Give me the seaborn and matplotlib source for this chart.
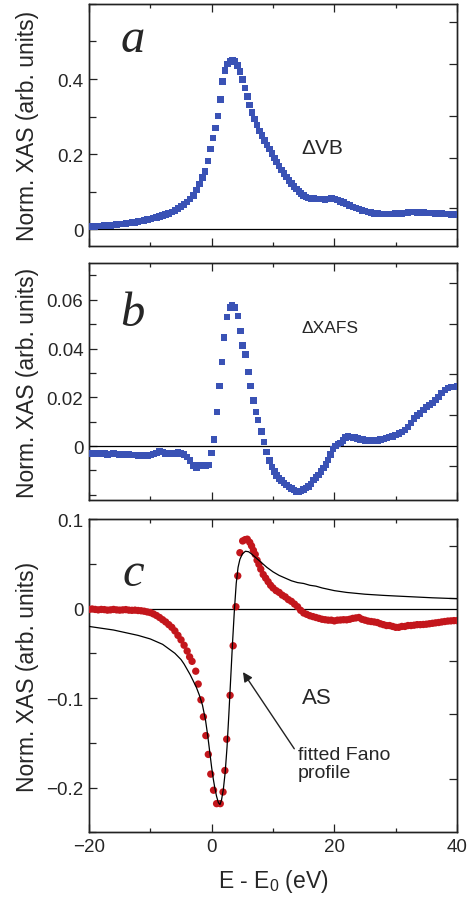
import numpy as np
import pandas as pd
import matplotlib
matplotlib.use("Agg")
import matplotlib.pyplot as plt
from matplotlib.ticker import MultipleLocator
import seaborn as sns

# ---------------- data ----------------
# panel a : Delta VB
a_x = [-20, -19.5, -19, -18.5, -18, -17.5, -17, -16.5, -16, -15.5, -15, -14.5, -14, -13.5, -13,
       -12.5, -12, -11.5, -11, -10.5, -10, -9.5, -9, -8.5, -8, -7.5, -7, -6.5, -6, -5.5, -5,
       -4.5, -4, -3.5, -3, -2.5, -2, -1.5, -1.1, -0.6, -0.2, 0.2, 0.6, 1.0, 1.4, 1.8, 2.2, 2.6,
       3.0, 3.4, 3.8, 4.2, 4.6, 5.0, 5.4, 5.8, 6.2, 6.6, 7.0, 7.4, 7.8, 8.2, 8.6, 9.0, 9.4, 9.8,
       10.2, 10.6, 11.0, 11.4, 11.8, 12.2, 12.6, 13.0, 13.4, 13.8, 14.2, 14.6, 15.0, 15.4, 15.8,
       16.2, 16.6, 17.0, 17.5, 18.0, 18.5, 19.0, 19.5, 20.0, 20.5, 21.0, 21.5, 22.0, 22.5, 23.0,
       23.5, 24.0, 24.5, 25.0, 25.5, 26.0, 26.5, 27.0, 27.5, 28.0, 28.5, 29.0, 29.5, 30.0, 30.5,
       31.0, 31.5, 32.0, 32.5, 33.0, 33.5, 34.0, 34.5, 35.0, 35.5, 36.0, 36.5, 37.0, 37.5, 38.0,
       38.5, 39.0, 39.5, 40.0]
a_y = [0.006, 0.007, 0.007, 0.008, 0.008, 0.009, 0.010, 0.010, 0.011, 0.012, 0.013, 0.014, 0.015,
       0.016, 0.017, 0.018, 0.020, 0.021, 0.023, 0.025, 0.027, 0.029, 0.031, 0.033, 0.036, 0.039,
       0.042, 0.046, 0.050, 0.055, 0.060, 0.066, 0.072, 0.080, 0.090, 0.104, 0.120, 0.138, 0.153,
       0.181, 0.214, 0.243, 0.270, 0.302, 0.345, 0.393, 0.422, 0.440, 0.447, 0.449, 0.446, 0.436,
       0.420, 0.398, 0.376, 0.354, 0.331, 0.311, 0.294, 0.278, 0.262, 0.249, 0.236, 0.224, 0.213,
       0.201, 0.190, 0.179, 0.168, 0.158, 0.148, 0.139, 0.130, 0.122, 0.114, 0.107, 0.100, 0.095,
       0.090, 0.086, 0.083, 0.082, 0.081, 0.080, 0.080, 0.080, 0.079, 0.080, 0.081, 0.080, 0.077,
       0.074, 0.071, 0.067, 0.063, 0.059, 0.056, 0.053, 0.050, 0.048, 0.046, 0.044, 0.042, 0.041,
       0.040, 0.040, 0.040, 0.040, 0.040, 0.041, 0.042, 0.042, 0.043, 0.044, 0.045, 0.045, 0.044,
       0.044, 0.044, 0.043, 0.043, 0.043, 0.042, 0.041, 0.041, 0.040, 0.040, 0.039, 0.039, 0.038]

# panel b : Delta XAFS
b_x = [-20, -19.5, -19, -18.5, -18, -17.5, -17, -16.5, -16, -15.5, -15, -14.5, -14, -13.5, -13,
       -12.5, -12, -11.5, -11, -10.5, -10, -9.5, -9, -8.5, -8, -7.5, -7, -6.5, -6, -5.5, -5,
       -4.5, -4, -3.5, -3, -2.5, -2, -1.5, -1.0, -0.4, 0.0, 0.4, 0.85, 1.3, 1.65, 2.0, 2.5, 2.95,
       3.35, 3.8, 4.3, 4.7, 5.05, 5.55, 6.0, 6.35, 6.8, 7.2, 7.55, 8.1, 8.5, 8.95, 9.4, 9.8, 10.2,
       10.6, 11.0, 11.4, 11.8, 12.2, 12.6, 13.0, 13.4, 13.8, 14.2, 14.6, 15.0, 15.4, 15.8, 16.2,
       16.6, 17.0, 17.4, 17.8, 18.2, 18.6, 19.0, 19.4, 19.8, 20.2, 20.6, 21.0, 21.4, 21.8, 22.2,
       22.6, 23.0, 23.4, 23.8, 24.2, 24.6, 25.0, 25.5, 26.0, 26.5, 27.0, 27.5, 28.0, 28.5, 29.0,
       29.5, 30.0, 30.5, 31.0, 31.5, 32.0, 32.5, 33.0, 33.5, 34.0, 34.5, 35.0, 35.5, 36.0, 36.5,
       37.0, 37.5, 38.0, 38.5, 39.0, 39.5, 40.0]
b_y = [-0.0030, -0.0032, -0.0030, -0.0033, -0.0031, -0.0030, -0.0034, -0.0032, -0.0030, -0.0033,
       -0.0035, -0.0034, -0.0036, -0.0035, -0.0037, -0.0036, -0.0038, -0.0037, -0.0039, -0.0038,
       -0.0036, -0.0032, -0.0028, -0.0022, -0.0025, -0.0030, -0.0033, -0.0028, -0.0030, -0.0027,
       -0.0030, -0.0034, -0.0045, -0.0060, -0.0080, -0.0087, -0.0080, -0.0078, -0.0080, -0.0077,
       -0.0028, 0.0027, 0.0140, 0.0246, 0.0346, 0.0445, 0.0529, 0.0569, 0.0576, 0.0569, 0.0534,
       0.0473, 0.0412, 0.0376, 0.0305, 0.0246, 0.0188, 0.0140, 0.0108, 0.0060, 0.0016, -0.0025,
       -0.0060, -0.0085, -0.0105, -0.0120, -0.0132, -0.0142, -0.0151, -0.0160, -0.0167, -0.0174,
       -0.0180, -0.0186, -0.0189, -0.0185, -0.0178, -0.0171, -0.0165, -0.0155, -0.0140, -0.0128,
       -0.0118, -0.0105, -0.0090, -0.0075, -0.0057, -0.0035, -0.0012, 0.0000, 0.0008, 0.0012,
       0.0022, 0.0035, 0.0040, 0.0038, 0.0033, 0.0038, 0.0032, 0.0025, 0.0028, 0.0022, 0.0020,
       0.0022, 0.0025, 0.0024, 0.0027, 0.0030, 0.0033, 0.0037, 0.0040, 0.0046, 0.0052, 0.0058,
       0.0066, 0.0078, 0.0095, 0.0113, 0.0125, 0.0133, 0.0148, 0.0160, 0.0168, 0.0177, 0.0190,
       0.0202, 0.0218, 0.0230, 0.0238, 0.0243, 0.0242, 0.0246]

# panel c : AS (measured)
c_x = [-20, -19.5, -19, -18.5, -18, -17.5, -17, -16.5, -16, -15.5, -15, -14.5, -14, -13.5, -13,
       -12.5, -12, -11.5, -11, -10.5, -10, -9.5, -9, -8.5, -8, -7.5, -7, -6.5, -6, -5.5, -5,
       -4.5, -4.0, -3.6, -3.2, -2.6, -2.2, -1.75, -1.35, -0.95, -0.55, -0.15, 0.3, 0.8, 1.4, 1.85,
       2.15, 2.45, 3.0, 3.5, 3.95, 4.25, 4.6, 5.05, 5.45, 5.8, 6.2, 6.5, 6.8, 7.1, 7.4, 7.7, 8.0,
       8.4, 8.8, 9.2, 9.6, 10.0, 10.5, 11.0, 11.5, 12.0, 12.5, 13.0, 13.5, 14.0, 14.5, 15.0, 15.5,
       16.0, 16.5, 17.0, 17.5, 18.0, 18.5, 19.0, 19.5, 20.0, 20.5, 21.0, 21.5, 22.0, 22.5, 23.0,
       23.5, 24.0, 24.5, 25.0, 25.5, 26.0, 26.5, 27.0, 27.5, 28.0, 28.5, 29.0, 29.5, 30.0, 30.5,
       31.0, 31.5, 32.0, 32.5, 33.0, 33.5, 34.0, 34.5, 35.0, 35.5, 36.0, 36.5, 37.0, 37.5, 38.0,
       38.5, 39.0, 39.5, 40.0]
c_y = [-0.0010, -0.0005, -0.0010, -0.0015, -0.0010, -0.0012, -0.0018, -0.0015, -0.0010, -0.0015,
       -0.0018, -0.0015, -0.0012, -0.0018, -0.0020, -0.0018, -0.0022, -0.0025, -0.0030, -0.0038,
       -0.0045, -0.0060, -0.0078, -0.0100, -0.0125, -0.0150, -0.0180, -0.0210, -0.0250, -0.0300,
       -0.0350, -0.0410, -0.0475, -0.0540, -0.0590, -0.0700, -0.0844, -0.1020, -0.1210, -0.1420,
       -0.1630, -0.1850, -0.2030, -0.2180, -0.2180, -0.2050, -0.1810, -0.1460, -0.0970, -0.0416,
       0.0020, 0.0365, 0.0624, 0.0755, 0.0770, 0.0775, 0.0740, 0.0700, 0.0650, 0.0605, 0.0540,
       0.0494, 0.0440, 0.0380, 0.0340, 0.0300, 0.0260, 0.0230, 0.0200, 0.0180, 0.0150, 0.0130,
       0.0100, 0.0080, 0.0050, 0.0020, -0.0020, -0.0050, -0.0065, -0.0080, -0.0090, -0.0100,
       -0.0110, -0.0120, -0.0125, -0.0130, -0.0130, -0.0138, -0.0130, -0.0128, -0.0125, -0.0126,
       -0.0120, -0.0110, -0.0105, -0.0100, -0.0120, -0.0130, -0.0140, -0.0145, -0.0150, -0.0156,
       -0.0170, -0.0180, -0.0190, -0.0190, -0.0200, -0.0210, -0.0210, -0.0200, -0.0200, -0.0190,
       -0.0190, -0.0186, -0.0180, -0.0180, -0.0178, -0.0175, -0.0170, -0.0165, -0.0160, -0.0156,
       -0.0150, -0.0145, -0.0140, -0.0138, -0.0135, -0.0135]

# panel c : fitted Fano profile
fano_x = [-20, -18, -16, -14, -12, -10, -9, -8, -7, -6, -5, -4.5, -4, -3.5, -3, -2.5, -2, -1.5,
          -1.0, -0.75, -0.5, -0.25, 0.0, 0.25, 0.5, 0.8, 1.1, 1.35, 1.6, 1.9, 2.2, 2.5, 2.8, 3.1,
          3.4, 3.7, 4.0, 4.3, 4.6, 5.0, 5.5, 6.0, 6.5, 7.0, 8.0, 9.0, 10, 11, 12, 13, 14, 15, 16,
          17, 18, 20, 22, 25, 28, 30, 33, 36, 40]
fano_y = [-0.020, -0.022, -0.024, -0.027, -0.030, -0.034, -0.037, -0.040, -0.045, -0.050, -0.057,
          -0.062, -0.068, -0.074, -0.081, -0.088, -0.097, -0.108, -0.125, -0.137, -0.150, -0.164,
          -0.178, -0.190, -0.200, -0.210, -0.217, -0.219, -0.214, -0.202, -0.183, -0.155, -0.118,
          -0.078, -0.038, -0.002, 0.028, 0.046, 0.055, 0.061, 0.064, 0.0635, 0.061, 0.058, 0.052,
          0.046, 0.041, 0.037, 0.034, 0.031, 0.029, 0.028, 0.026, 0.025, 0.023, 0.020, 0.018,
          0.016, 0.0147, 0.014, 0.013, 0.012, 0.011]

x_ticks = [-20, 0, 20, 40]
panel_letters = ["a", "b", "c"]
series_labels = ["ΔVB", "ΔXAFS", "AS"]
fano_label = "fitted Fano\nprofile"
ylabel = "Norm. XAS (arb. units)"
xlabel = "E - E$_\\mathregular{0}$ (eV)"

# ---------------- styling ----------------
sns.set_style("ticks")
plt.rcParams["font.family"] = ["Liberation Sans", "DejaVu Sans"]
plt.rcParams["mathtext.fontset"] = "custom"
plt.rcParams["mathtext.rm"] = "Liberation Sans"
plt.rcParams["axes.edgecolor"] = "#222222"
plt.rcParams["axes.linewidth"] = 1.0

BLUE = "#3a52b5"
RED = "#c3161c"

fig = plt.figure(figsize=(4.74, 9.03), dpi=100)
L, W = 0.1878, 0.7764
ax_a = fig.add_axes([L, 0.7265, W, 0.2680])
ax_b = fig.add_axes([L, 0.4455, W, 0.2618])
ax_c = fig.add_axes([L, 0.0772, W, 0.3469])

df_a = pd.DataFrame({"x": a_x, "y": a_y})
df_b = pd.DataFrame({"x": b_x, "y": b_y})
df_c = pd.DataFrame({"x": c_x, "y": c_y})
df_f = pd.DataFrame({"x": fano_x, "y": fano_y})

sns.scatterplot(data=df_a, x="x", y="y", ax=ax_a, marker="s", s=22, color=BLUE,
                edgecolor="none", linewidth=0, zorder=3)
sns.scatterplot(data=df_b, x="x", y="y", ax=ax_b, marker="s", s=22, color=BLUE,
                edgecolor="none", linewidth=0, zorder=3)
sns.scatterplot(data=df_c, x="x", y="y", ax=ax_c, marker="o", s=28, color=RED,
                edgecolor="none", linewidth=0, zorder=3)
sns.lineplot(data=df_f, x="x", y="y", ax=ax_c, color="black", linewidth=0.9,
             sort=False, estimator=None, zorder=4)

ylims = [(-0.045, 0.6), (-0.022, 0.075), (-0.25, 0.1)]
ymaj = [[0, 0.2, 0.4], [0, 0.02, 0.04, 0.06], [-0.2, -0.1, 0, 0.1]]
ymin_step = [0.1, 0.01, 0.05]
ylab_fmt = [lambda v: "0" if v == 0 else f"{v:.1f}",
            lambda v: "0" if v == 0 else f"{v:.2f}",
            lambda v: "0" if v == 0 else f"{v:.1f}".replace("-", "\u2212")]
right_ticks = [[0.551, 0.439, 0.302, 0.190, 0.056],
               [0.0669, 0.0500, 0.0294, 0.0126, -0.0082],
               [0.0699, 0.0123, -0.059, -0.1175, -0.190]]
letter_pos = [(0.12, 0.855), (0.117, 0.79), (0.12, 0.828)]

for i, ax in enumerate([ax_a, ax_b, ax_c]):
    ax.set_xlim(-20, 40)
    ax.set_ylim(*ylims[i])
    ax.axhline(0, color="black", linewidth=0.9, zorder=2)
    ax.xaxis.set_major_locator(MultipleLocator(20))
    ax.xaxis.set_minor_locator(MultipleLocator(10))
    ax.set_yticks(ymaj[i])
    ax.set_yticklabels([ylab_fmt[i](v) for v in ymaj[i]])
    ax.yaxis.set_minor_locator(MultipleLocator(ymin_step[i]))
    ax.tick_params(axis="both", which="major", direction="in", length=5.5, width=0.9,
                   top=True, right=False, labelsize=13.5, pad=4, color="#222222")
    ax.tick_params(axis="x", which="minor", direction="in", length=3.2, width=0.9,
                   top=True, bottom=True, color="#222222")
    ax.tick_params(axis="y", which="minor", direction="in", length=5.0, width=0.9,
                   left=True, right=False, color="#222222")
    ax.set_ylabel(ylabel, fontsize=16.5)
    ax.yaxis.set_label_coords(-0.136, 0.5)
    ax.set_xlabel("")
    if i < 2:
        ax.tick_params(axis="x", labelbottom=False)
    ax.text(*letter_pos[i], panel_letters[i], transform=ax.transAxes, ha="center",
            va="center", fontsize=35, fontstyle="italic",
            family=["Liberation Serif", "DejaVu Serif"])
    tw = ax.twinx()
    tw.set_ylim(*ylims[i])
    tw.set_yticks(right_ticks[i])
    tw.tick_params(axis="y", direction="in", length=5.5, width=0.9, labelright=False,
                   color="#222222")
    tw.grid(False)
    ax.set_zorder(tw.get_zorder() + 1)
    ax.patch.set_visible(False)

ax_c.set_xticks(x_ticks)
ax_c.set_xticklabels([("\u2212" + str(-v)) if v < 0 else str(v) for v in x_ticks])
ax_c.set_xlabel(xlabel, fontsize=16.5, labelpad=9)

ax_a.text(14.7, 0.218, series_labels[0], fontsize=15, ha="left", va="center")
ax_b.text(14.7, 0.0488, series_labels[1], fontsize=12.5, ha="left", va="center")
ax_c.text(14.7, -0.099, series_labels[2], fontsize=16, ha="left", va="center")
ax_c.annotate(fano_label, xy=(5.1, -0.071), xytext=(14.0, -0.173), fontsize=14,
              ha="left", va="center", linespacing=1.05,
              arrowprops=dict(arrowstyle="-|>", color="#222222", lw=1.0,
                              mutation_scale=14, shrinkA=0, shrinkB=0,
                              relpos=(0.0, 0.78)))

fig.savefig("out.png", dpi=100)
